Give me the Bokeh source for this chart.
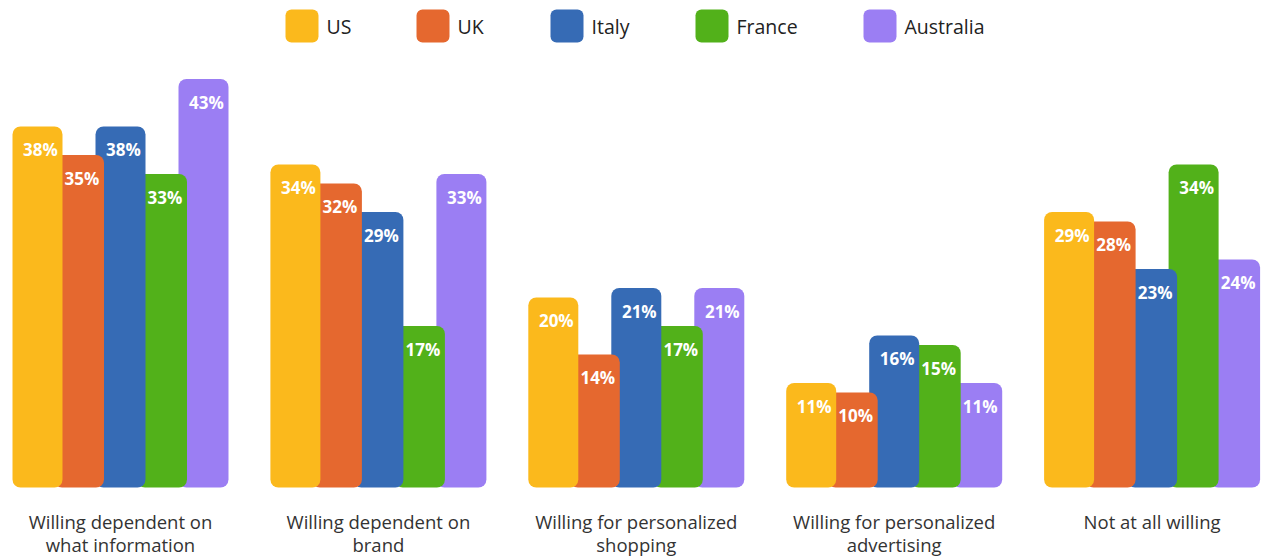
from bokeh.plotting import figure
from bokeh.models import Range1d, ColumnDataSource
from bokeh.core.properties import value
from bokeh.embed import file_html
from bokeh.resources import INLINE

# ---- data ----
categories = ["Willing dependent on\nwhat information", "Willing dependent on\nbrand",
              "Willing for personalized\nshopping", "Willing for personalized\nadvertising",
              "Not at all willing"]
series = ["US", "UK", "Italy", "France", "Australia"]
us = [38, 34, 20, 11, 29]
uk = [35, 32, 14, 10, 28]
italy = [38, 29, 21, 16, 23]
france = [33, 17, 17, 15, 34]
australia = [43, 33, 21, 11, 24]
values = [us, uk, italy, france, australia]
colors = ["#FBB91C", "#E5682F", "#366BB5", "#52B11A", "#9B7EF3"]

# ---- layout (pixels) ----
FW, FH = 1265, 558
X0, PITCH = 120.0, 257.9      # px of first group centre, px between groups
BASE, PPU = 487.0, 9.5        # px of value 0, px per percent
STEP_PX, BAR_PX = 41.5, 50.0
FONT = "Open Sans"

def xd(px):
    return (px - X0) / PITCH

def yd(py):
    return (BASE - py) / PPU

p = figure(width=FW, height=FH, output_backend="svg", toolbar_location=None,
           x_range=Range1d(xd(0), xd(FW)), y_range=Range1d(yd(FH), yd(0)),
           min_border=0, outline_line_color=None)
p.axis.visible = False
p.grid.visible = False
p.background_fill_color = "white"
p.border_fill_color = "white"

step = STEP_PX / PITCH
bw = BAR_PX / PITCH
n = len(series)
groups = list(range(len(categories)))

# bars: draw last series first so earlier series sit on top
for i in reversed(range(n)):
    xs = [g + (i - (n - 1) / 2) * step for g in groups]
    src = ColumnDataSource(dict(x=xs, top=values[i]))
    p.vbar(x="x", top="top", bottom=0, width=bw, source=src,
           fill_color=colors[i], line_color=None, border_radius=8)

for i in range(n):
    xs = [g + (i - (n - 1) / 2) * step for g in groups]
    src = ColumnDataSource(dict(x=xs, y=values[i], t=[f"{v}%" for v in values[i]]))
    p.text(x="x", y="y", text="t", source=src, x_offset=3, y_offset=23,
           text_align="center", text_baseline="middle", text_color="white",
           text_font=value(FONT), text_font_size="17px", text_font_style="bold")

# category labels
line1 = [c.split("\n")[0] for c in categories]
line2 = [c.split("\n")[1] if "\n" in c else "" for c in categories]
p.text(x=groups, y=[0] * len(groups), text=line1, y_offset=34,
       text_align="center", text_baseline="middle", text_color="#333333",
       text_font=value(FONT), text_font_size="18.5px")
p.text(x=groups, y=[0] * len(groups), text=line2, y_offset=57,
       text_align="center", text_baseline="middle", text_color="#333333",
       text_font=value(FONT), text_font_size="18.5px")

# legend
leg_left = [285, 416, 550, 695, 863]   # px
SQ = 33
for i in range(n):
    cx = xd(leg_left[i] + SQ / 2)
    p.vbar(x=[cx], top=[yd(9)], bottom=[yd(9 + SQ)], width=SQ / PITCH,
           fill_color=colors[i], line_color=None, border_radius=6)
    p.text(x=[xd(leg_left[i] + SQ + 8)], y=[yd(9 + SQ / 2)], text=[series[i]],
           text_align="left", text_baseline="middle", text_color="#222222",
           text_font=value(FONT), text_font_size="19.5px")

open("out.html", "w").write(file_html(p, INLINE))
